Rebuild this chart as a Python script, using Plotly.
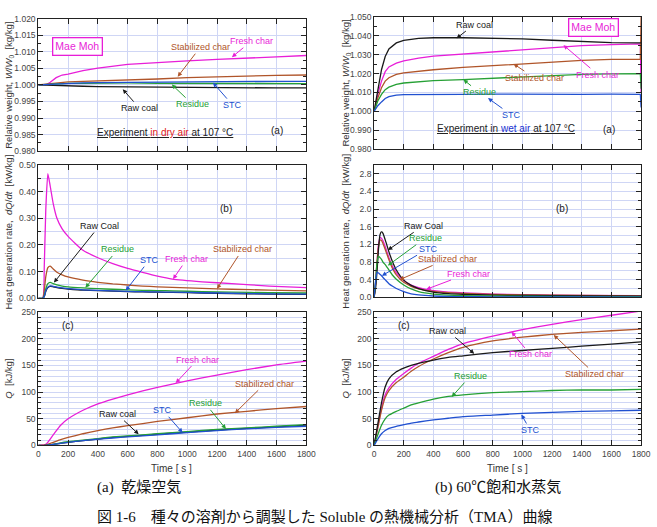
import plotly.graph_objects as go

W, H = 657, 527

# ---------------- data ----------------
series = ["Raw coal", "STC", "Residue", "Stabilized char", "Fresh char"]
colors = {"Raw coal": "#1a1a1a", "STC": "#2050d0", "Residue": "#26a035",
          "Stabilized char": "#b0552a", "Fresh char": "#e81ed8"}

# (a) dry air relative weight
t_wd = [0, 50, 80, 120, 160, 200, 300, 400, 600, 800, 1000, 1200, 1400, 1600, 1800]
wd_fresh = [1.0000, 1.0000, 1.0008, 1.0022, 1.0030, 1.0033, 1.0043, 1.0051, 1.0062, 1.0068, 1.0073, 1.0077, 1.0080, 1.0085, 1.0089]
wd_stab = [1.0000, 1.0002, 1.0005, 1.0007, 1.0008, 1.0009, 1.0011, 1.0012, 1.0015, 1.0018, 1.0022, 1.0025, 1.0026, 1.0029, 1.0030]
wd_stc = [1.0000, 1.0001, 1.0003, 1.0004, 1.0005, 1.0005, 1.0006, 1.0007, 1.0008, 1.0008, 1.0009, 1.0010, 1.0010, 1.0011, 1.0011]
wd_res = [1.0000, 1.0001, 1.0003, 1.0004, 1.0005, 1.0005, 1.0005, 1.0006, 1.0006, 1.0005, 1.0005, 1.0004, 1.0005, 1.0006, 1.0004]
wd_raw = [1.0000, 0.9999, 0.9999, 0.9999, 0.9998, 0.9997, 0.9996, 0.9995, 0.9994, 0.9993, 0.9992, 0.9992, 0.9991, 0.9991, 0.9991]

# (a) wet air relative weight
t_ww = [0, 25, 50, 75, 100, 150, 200, 300, 400, 600, 800, 1000, 1200, 1400, 1600, 1795, 1800]
ww_raw = [1.000, 1.012, 1.022, 1.029, 1.033, 1.0362, 1.0375, 1.0386, 1.0389, 1.0389, 1.0387, 1.0383, 1.0376, 1.0368, 1.0363, 1.0362, 1.0362]
ww_fresh = [1.000, 1.009, 1.016, 1.021, 1.0235, 1.0255, 1.0267, 1.0282, 1.0292, 1.0303, 1.0313, 1.0323, 1.0337, 1.0347, 1.0353, 1.0357, 1.0100]
ww_stab = [1.000, 1.007, 1.0125, 1.016, 1.0178, 1.0195, 1.0203, 1.0213, 1.0220, 1.0232, 1.0242, 1.0252, 1.0262, 1.0269, 1.0275, 1.0275, 1.0500]
ww_res = [1.000, 1.0055, 1.009, 1.0115, 1.0128, 1.0143, 1.0150, 1.0158, 1.0163, 1.0168, 1.0175, 1.0183, 1.0192, 1.0196, 1.0198, 1.0199, 1.0120]
ww_stc = [1.000, 1.003, 1.005, 1.0068, 1.0078, 1.0086, 1.0089, 1.0090, 1.0090, 1.0090, 1.0091, 1.0090, 1.0091, 1.0090, 1.0091, 1.0090, 1.0020]

# (b) dry air heat generation rate
t_hd = [0, 30, 40, 50, 64, 80, 100, 125, 160, 200, 300, 400, 500, 600, 700, 800, 900, 1100, 1300, 1550, 1800]
hd_fresh = [0, 0, 0.12, 0.33, 0.467, 0.42, 0.355, 0.30, 0.26, 0.232, 0.18, 0.152, 0.13, 0.112, 0.097, 0.083, 0.072, 0.062, 0.055, 0.046, 0.040]
hd_stab = [0, 0, 0.03, 0.08, 0.115, 0.121, 0.110, 0.098, 0.088, 0.080, 0.068, 0.060, 0.054, 0.050, 0.046, 0.043, 0.041, 0.037, 0.034, 0.031, 0.028]
hd_res = [0, 0, 0.01, 0.035, 0.055, 0.060, 0.055, 0.050, 0.046, 0.043, 0.039, 0.036, 0.034, 0.032, 0.030, 0.029, 0.028, 0.025, 0.023, 0.021, 0.020]
hd_stc = [0, 0, 0.008, 0.028, 0.042, 0.047, 0.045, 0.042, 0.039, 0.036, 0.032, 0.030, 0.028, 0.026, 0.025, 0.024, 0.023, 0.021, 0.019, 0.017, 0.016]
hd_raw = [0, 0, 0.007, 0.026, 0.040, 0.045, 0.043, 0.040, 0.037, 0.035, 0.031, 0.029, 0.027, 0.025, 0.024, 0.023, 0.022, 0.020, 0.018, 0.016, 0.015]

# (b) wet air heat generation rate
t_hw = [0, 10, 20, 30, 40, 50, 60, 80, 100, 125, 150, 200, 250, 300, 400, 500, 600, 800, 1000, 1400, 1800]
hw_raw = [0, 0.20, 0.60, 1.10, 1.42, 1.49, 1.45, 1.25, 1.03, 0.80, 0.62, 0.39, 0.27, 0.20, 0.12, 0.085, 0.068, 0.052, 0.042, 0.033, 0.028]
hw_fresh = [0, 0.30, 0.80, 1.20, 1.35, 1.34, 1.28, 1.10, 0.90, 0.70, 0.56, 0.38, 0.28, 0.22, 0.15, 0.12, 0.10, 0.075, 0.060, 0.045, 0.038]
hw_stab = [0, 0.30, 0.80, 1.15, 1.30, 1.29, 1.22, 1.04, 0.85, 0.65, 0.51, 0.34, 0.25, 0.19, 0.135, 0.105, 0.088, 0.068, 0.054, 0.042, 0.035]
hw_res = [0, 0.35, 0.80, 0.93, 0.90, 0.86, 0.80, 0.72, 0.62, 0.50, 0.41, 0.28, 0.19, 0.13, 0.075, 0.050, 0.040, 0.030, 0.025, 0.018, 0.015]
hw_stc = [0, 0.35, 0.57, 0.55, 0.52, 0.49, 0.45, 0.38, 0.31, 0.25, 0.20, 0.13, 0.08, 0.055, 0.030, 0.020, 0.016, 0.012, 0.010, 0.008, 0.007]

# (c) dry air cumulative heat
t_qd = [0, 50, 100, 150, 200, 300, 400, 500, 600, 800, 1000, 1200, 1400, 1600, 1800]
qd_fresh = [0, 2, 20, 38, 50, 66, 78, 87, 95, 109, 121, 132, 142, 151, 158]
qd_stab = [0, 1, 6, 11, 15, 22, 28, 33, 37, 45, 52, 59, 64, 69, 73]
qd_res = [0, 0, 2, 5, 7, 10, 13, 16, 18, 22, 26, 30, 33, 36, 39]
qd_stc = [0, 0, 2, 4, 6, 9, 12, 14, 16, 20, 24, 28, 31, 34, 36]
qd_raw = [0, 0, 2, 4, 6, 9, 12, 15, 17, 21, 25, 29, 32, 35, 38]

# (c) wet air cumulative heat
t_qw = [0, 25, 50, 75, 100, 150, 200, 250, 300, 400, 500, 600, 800, 1000, 1200, 1400, 1600, 1800]
qw_raw = [0, 40, 80, 110, 125, 138, 145, 150, 154, 160, 165, 168, 174, 178, 182, 186, 190, 194]
qw_fresh = [0, 35, 70, 95, 108, 124, 135, 145, 154, 167, 180, 191, 205, 217, 227, 236, 244, 252]
qw_stab = [0, 33, 66, 90, 103, 118, 128, 139, 148, 162, 174, 184, 196, 203, 208, 212, 215, 218]
qw_res = [0, 20, 38, 50, 57, 64, 70, 76, 80, 87, 92, 95, 99, 101, 103, 104, 104, 105]
qw_stc = [0, 12, 22, 28, 32, 36, 39, 42, 44, 48, 51, 54, 57, 60, 62, 64, 65, 66]

panels = [
    (t_wd, {"Raw coal": wd_raw, "STC": wd_stc, "Residue": wd_res, "Stabilized char": wd_stab, "Fresh char": wd_fresh}, "linear"),
    (t_ww, {"Raw coal": ww_raw, "STC": ww_stc, "Residue": ww_res, "Stabilized char": ww_stab, "Fresh char": ww_fresh}, "linear"),
    (t_hd, {"Raw coal": hd_raw, "STC": hd_stc, "Residue": hd_res, "Stabilized char": hd_stab, "Fresh char": hd_fresh}, "spline"),
    (t_hw, {"Raw coal": hw_raw, "STC": hw_stc, "Residue": hw_res, "Stabilized char": hw_stab, "Fresh char": hw_fresh}, "spline"),
    (t_qd, {"Raw coal": qd_raw, "STC": qd_stc, "Residue": qd_res, "Stabilized char": qd_stab, "Fresh char": qd_fresh}, "spline"),
    (t_qw, {"Raw coal": qw_raw, "STC": qw_stc, "Residue": qw_res, "Stabilized char": qw_stab, "Fresh char": qw_fresh}, "spline"),
]

fig = go.Figure()
draw_order = ["Fresh char", "Stabilized char", "Raw coal", "Residue", "STC"]
for i, (t, d, shape) in enumerate(panels):
    k = "" if i == 0 else str(i + 1)
    for name in draw_order:
        fig.add_trace(go.Scatter(x=t, y=d[name], mode="lines", name=name, showlegend=False,
                                 line=dict(color=colors[name], width=1.3, shape=shape, smoothing=0.5),
                                 xaxis="x" + k, yaxis="y" + k))

# ---------------- layout ----------------
def px(v):
    return v / W

def py(v):
    return 1 - v / H

FONT = "Liberation Sans, Arial, sans-serif"
GRID = "#cfd6f5"
TICKF = dict(size=8.5, color="#444")
xdom = [(37, 310), (379, 651)]
rows = [((14, 149), (12, 147)), ((163, 299), (163, 298)), ((313, 449), (313, 449))]
yspec = [
    dict(range=[0.980, 1.020], dtick=0.005, tickformat=".3f", minor=dict(dtick=0.0025)),
    dict(range=[0.980, 1.050], dtick=0.010, tickformat=".3f", minor=dict(dtick=0.005)),
    dict(range=[0, 0.5], dtick=0.1, tickformat=".2f", minor=dict(dtick=0.05, showgrid=True)),
    dict(range=[0, 3.0], dtick=0.4, tickformat=".1f", minor=dict(dtick=0.2, showgrid=True)),
    dict(range=[0, 250], dtick=50, tickformat="d", minor=dict(dtick=10, showgrid=True)),
    dict(range=[0, 250], dtick=50, tickformat="d", minor=dict(dtick=10, showgrid=True)),
]

layout = dict(width=W, height=H, margin=dict(l=0, r=0, t=0, b=0),
              paper_bgcolor="white", plot_bgcolor="white",
              font=dict(family=FONT, size=10, color="#333"))
for i in range(6):
    r, c = divmod(i, 2)
    k = "" if i == 0 else str(i + 1)
    ytop, ybot = rows[r][c]
    x0, x1 = xdom[c]
    ys = yspec[i]
    minor = dict(ticks="inside", ticklen=3, tickcolor="#222", gridcolor=GRID, gridwidth=0.6,
                 showgrid=ys["minor"].get("showgrid", False), dtick=ys["minor"]["dtick"])
    layout["xaxis" + k] = dict(domain=[px(x0), px(x1)], anchor="y" + k, range=[0, 1800], dtick=200,
                               showline=True, linecolor="#222", linewidth=1, mirror="ticks",
                               ticks="inside", ticklen=5, tickcolor="#222",
                               showgrid=True, gridcolor=GRID, gridwidth=0.8, zeroline=False,
                               showticklabels=(r == 2), tickfont=TICKF)
    layout["yaxis" + k] = dict(domain=[py(ybot), py(ytop)], anchor="x" + k, range=ys["range"],
                               dtick=ys["dtick"], tickformat=ys["tickformat"],
                               showline=True, linecolor="#222", linewidth=1, mirror="ticks",
                               ticks="inside", ticklen=5, tickcolor="#222", minor=minor,
                               showgrid=True, gridcolor=GRID, gridwidth=0.8, zeroline=False,
                               tickfont=TICKF)
fig.update_layout(**layout)

ann = []
AF = 9

def label(i, text, tx, ty, hx=None, hy=None, color="#222", size=AF):
    k = "" if i == 0 else str(i + 1)
    if hx is None:
        ann.append(dict(x=tx, y=ty, xref="x" + k, yref="y" + k, text=text, showarrow=False,
                        xanchor="center", yanchor="middle", font=dict(size=size, color=color)))
    else:
        ann.append(dict(x=hx, y=hy, ax=tx, ay=ty, xref="x" + k, yref="y" + k, axref="x" + k, ayref="y" + k,
                        text=text, showarrow=True, arrowhead=2, arrowsize=0.9, arrowwidth=1,
                        arrowcolor=color, font=dict(size=size, color=color)))

C = colors
# panel 1 (dry, weight)
label(0, "Stabilized char", 1088, 1.0114, 936, 1.0025, C["Stabilized char"])
label(0, "Fresh char", 1430, 1.0132, 1300, 1.0084, C["Fresh char"])
label(0, "Raw coal", 679, 0.9930, 567, 0.9987, C["Raw coal"])
label(0, "Residue", 1035, 0.9942, 897, 1.0001, C["Residue"])
label(0, "STC", 1305, 0.9939, 1173, 1.0007, C["STC"])
label(0, "<u>Experiment <span style='color:#e02020'>in dry air</span> at 107 °C</u>", 850, 0.9856, size=10)
label(0, "(a)", 1602, 0.9862, size=10)
ann.append(dict(x=264, y=1.0117, xref="x", yref="y", text="Mae Moh", showarrow=False,
                xanchor="center", yanchor="middle",
                font=dict(size=10.5, color=C["Fresh char"]), bordercolor=C["Fresh char"],
                borderwidth=1.3, borderpad=2, bgcolor="white"))
# panel 2 (wet, weight)
label(1, "Raw coal", 675, 1.0459, 556, 1.0386, C["Raw coal"])
label(1, "Fresh char", 1509, 1.0194, 1277, 1.0350, C["Fresh char"])
label(1, "Stabilized char", 1079, 1.0179, 940, 1.0251, C["Stabilized char"])
label(1, "Residue", 708, 1.0101, 602, 1.0168, C["Residue"])
label(1, "STC", 926, 0.9981, 768, 1.0070, C["STC"])
label(1, "<u>Experiment in <span style='color:#2030d0'>wet air</span> at 107 °C</u>", 887, 0.9909, size=10)
label(1, "(a)", 1582, 0.9904, size=10)
ann.append(dict(x=1476, y=1.0443, xref="x2", yref="y2", text="Mae Moh", showarrow=False,
                xanchor="center", yanchor="middle",
                font=dict(size=10.5, color=C["Fresh char"]), bordercolor=C["Fresh char"],
                borderwidth=1.3, borderpad=2, bgcolor="white"))
# panel 3 (dry, rate)
label(2, "(b)", 1259, 0.337, size=10)
label(2, "Raw Coal", 409, 0.271, 105, 0.059, C["Raw coal"])
label(2, "Residue", 534, 0.183, 316, 0.040, C["Residue"])
label(2, "STC", 745, 0.143, 587, 0.029, C["STC"])
label(2, "Fresh char", 997, 0.147, 905, 0.072, C["Fresh char"])
label(2, "Stabilized char", 1371, 0.183, 1200, 0.036, C["Stabilized char"])
# panel 4 (wet, rate)
label(3, "(b)", 1264, 2.02, size=10)
label(3, "Raw Coal", 331, 1.62, 93, 1.07, C["Raw coal"])
label(3, "Residue", 344, 1.34, 93, 0.72, C["Residue"])
label(3, "STC", 364, 1.10, 53, 0.49, C["STC"])
label(3, "Stabilized char", 496, 0.87, 172, 0.40, C["Stabilized char"])
label(3, "Fresh char", 635, 0.54, 351, 0.18, C["Fresh char"])
# panel 5 (dry, Q)
label(4, "(c)", 197, 225, size=10)
label(4, "Fresh char", 1069, 161, 923, 117, C["Fresh char"])
label(4, "Stabilized char", 1521, 115.6, 1320, 60.5, C["Stabilized char"])
label(4, "Residue", 1120, 79, 1260, 31, C["Residue"])
label(4, "STC", 837, 66, 969, 24, C["STC"])
label(4, "Raw coal", 529, 58.7, 674, 21, C["Raw coal"])
# panel 6 (wet, Q)
label(5, "(c)", 199, 224, size=10)
label(5, "Raw coal", 496, 214.6, 675, 172, C["Raw coal"])
label(5, "Fresh char", 1052, 170.6, 927, 213, C["Fresh char"])
label(5, "Stabilized char", 1489, 134, 1211, 207, C["Stabilized char"])
label(5, "Residue", 649, 130, 523, 91, C["Residue"])
label(5, "STC", 1052, 29, 993, 58, C["STC"])

# y-axis titles
ytitles = [
    ("Relative weight, <i>W</i>/<i>W</i><sub>0</sub>  [kg/kg]", 0),
    ("Heat generation rate,  <i>dQ</i>/<i>dt</i>  [kW/kg]", 1),
    ("<i>Q</i>  [kJ/kg]", 2),
]
for text, r in ytitles:
    for c, xp in ((0, 7), (1, 350)):
        ytop, ybot = rows[r][c]
        ann.append(dict(x=px(xp), y=py((ytop + ybot) / 2), xref="paper", yref="paper", text=text,
                        xanchor="center", yanchor="middle",
                        textangle=-90, showarrow=False, font=dict(size=9.5, color="#333")))
for xc in (173, 515):
    ann.append(dict(x=px(xc), y=py(472), xref="paper", yref="paper", text="Time [ s ]",
                    xanchor="center", yanchor="middle",
                    showarrow=False, font=dict(size=10, color="#333")))

SERIF = "Liberation Serif, Noto Sans CJK JP, serif"
ann.append(dict(x=px(140), y=py(492), xref="paper", yref="paper", text="(a)  乾燥空気",
                xanchor="center", yanchor="middle",
                showarrow=False, font=dict(family=SERIF, size=15, color="#111")))
ann.append(dict(x=px(505), y=py(492), xref="paper", yref="paper", text="(b) 60℃飽和水蒸気",
                xanchor="center", yanchor="middle",
                showarrow=False, font=dict(family=SERIF, size=15, color="#111")))
ann.append(dict(x=px(328), y=py(522), xref="paper", yref="paper",
                text="図 1-6　種々の溶剤から調製した Soluble の熱機械分析（TMA）曲線",
                xanchor="center", yanchor="middle",
                showarrow=False, font=dict(family=SERIF, size=15, color="#111")))

fig.update_layout(annotations=ann)
fig.write_html("out.html")
